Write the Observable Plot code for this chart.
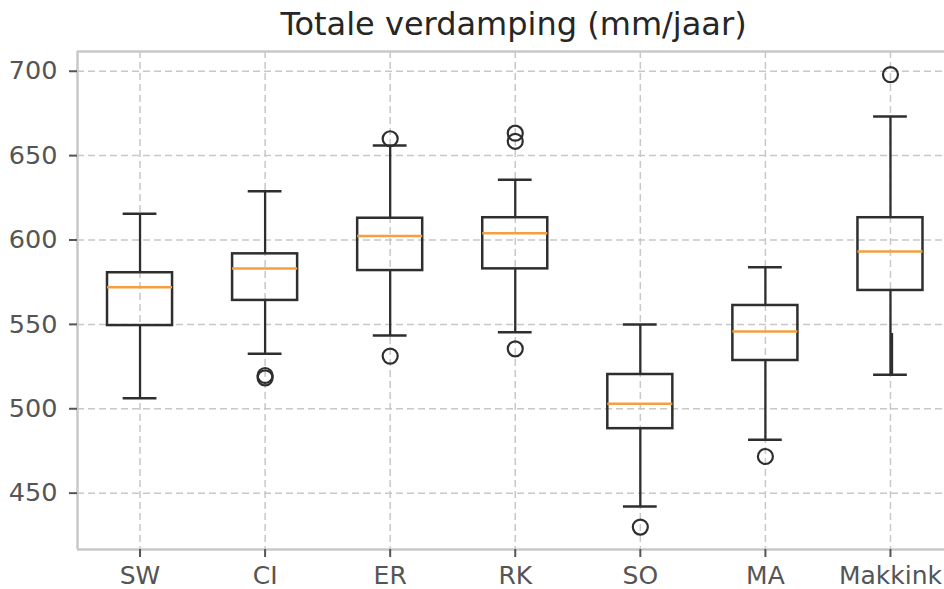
<!DOCTYPE html>
<html><head><meta charset="utf-8">
<script src="https://cdn.jsdelivr.net/npm/d3@7"></script>
<script src="https://cdn.jsdelivr.net/npm/@observablehq/plot@0.6"></script>
<style>
html,body{margin:0;padding:0;background:#fff;overflow:hidden}
#wrap{position:relative;width:944px;height:589px}
#wrap svg{position:absolute;left:0;top:0}
#title{position:absolute;left:77px;width:873px;top:5px;text-align:center;font-family:"DejaVu Sans";font-size:32px;line-height:normal;color:#262626;white-space:nowrap;z-index:2}
</style></head><body>
<div id="wrap"><div id="title">Totale verdamping (mm/jaar)</div></div>
<script>
const categories = ["SW","CI","ER","RK","SO","MA","Makkink"];
const whiskerLow  = [506.3,532.6,543.4,545.4,442.1,481.6,520.1];
const q1          = [549.3,564.2,581.9,582.9,488.2,528.6,570.1];
const median      = [572.0,583.1,602.3,604.0,502.9,545.8,593.2];
const q3          = [580.6,591.8,612.9,613.2,520.3,561.2,613.2];
const whiskerHigh = [615.5,628.9,656.0,635.7,549.9,583.9,673.2];
const outlierCategory = ["CI","CI","ER","ER","RK","RK","RK","SO","MA","Makkink"];
const outlierValue    = [519.7,518.3,660.0,531.2,663.3,658.5,535.5,429.9,471.7,698.0];
// overlapping (thicker) lower-whisker segment seen on Makkink
const extraCategory = ["Makkink"];
const extraFrom = [544.6];
const extraTo = [520.1];
const yTicks = [450,500,550,600,650,700];

const boxes = categories.map((c,i)=>({c, x:i+1, lo:whiskerLow[i], q1:q1[i], med:median[i], q3:q3[i], hi:whiskerHigh[i]}));
const outliers = outlierCategory.map((c,i)=>({x:categories.indexOf(c)+1, y:outlierValue[i]}));
const extras = extraCategory.map((c,i)=>({x:categories.indexOf(c)+1, y1:extraFrom[i], y2:extraTo[i]}));
const xPos = categories.map((_,i)=>i+1);
const yDomain = [416.6, 711.7];
const xDomain = [0.5, 7.432];
const boxHalf = 0.26, capHalf = 0.135;
const dark = "#2e2e2e", gridC = "#c8c8c8", frameC = "#c8c8c8", orange = "#f5a040";

const chart = Plot.plot({
  width: 944, height: 589,
  marginLeft: 77, marginRight: 0, marginTop: 51, marginBottom: 40,
  x: {type: "linear", domain: xDomain, label: null},
  y: {domain: yDomain, label: null},
  style: {fontFamily: "DejaVu Sans", background: "transparent"},
  marks: [
    Plot.ruleY(yTicks, {stroke: gridC, strokeWidth: 1.5, strokeDasharray: "7,4"}),
    Plot.ruleX(xPos, {stroke: gridC, strokeWidth: 1.5, strokeDasharray: "7,4"}),
    Plot.ruleX([xDomain[0]], {stroke: frameC, strokeWidth: 2.5}),
    Plot.ruleY(yDomain, {stroke: frameC, strokeWidth: 2.5}),
    Plot.axisY({ticks: yTicks, tickSize: 8, tickPadding: 12, fontSize: 25.5, color: "#555", strokeWidth: 2}),
    Plot.axisX({ticks: xPos, tickFormat: d => categories[d-1], tickSize: 8, tickPadding: 9, fontSize: 25, color: "#555", strokeWidth: 2}),
    Plot.ruleX(boxes, {x: "x", y1: "q3", y2: "hi", stroke: dark, strokeWidth: 2.3}),
    Plot.ruleX(boxes, {x: "x", y1: "lo", y2: "q1", stroke: dark, strokeWidth: 2.3}),
    Plot.ruleX(extras, {x: "x", y1: "y1", y2: "y2", stroke: dark, strokeWidth: 3, dx: 1.2}),
    Plot.ruleY(boxes, {y: "hi", x1: d => d.x - capHalf, x2: d => d.x + capHalf, stroke: dark, strokeWidth: 2.5}),
    Plot.ruleY(boxes, {y: "lo", x1: d => d.x - capHalf, x2: d => d.x + capHalf, stroke: dark, strokeWidth: 2.5}),
    Plot.rect(boxes, {x1: d => d.x - boxHalf, x2: d => d.x + boxHalf, y1: "q1", y2: "q3", fill: "none", stroke: dark, strokeWidth: 2.5}),
    Plot.ruleY(boxes, {y: "med", x1: d => d.x - boxHalf, x2: d => d.x + boxHalf, stroke: orange, strokeWidth: 2.5}),
    Plot.dot(outliers, {x: "x", y: "y", r: 7.5, stroke: dark, strokeWidth: 2.2, fill: "none"})
  ]
});
document.getElementById("wrap").appendChild(chart);
</script>
</body></html>
